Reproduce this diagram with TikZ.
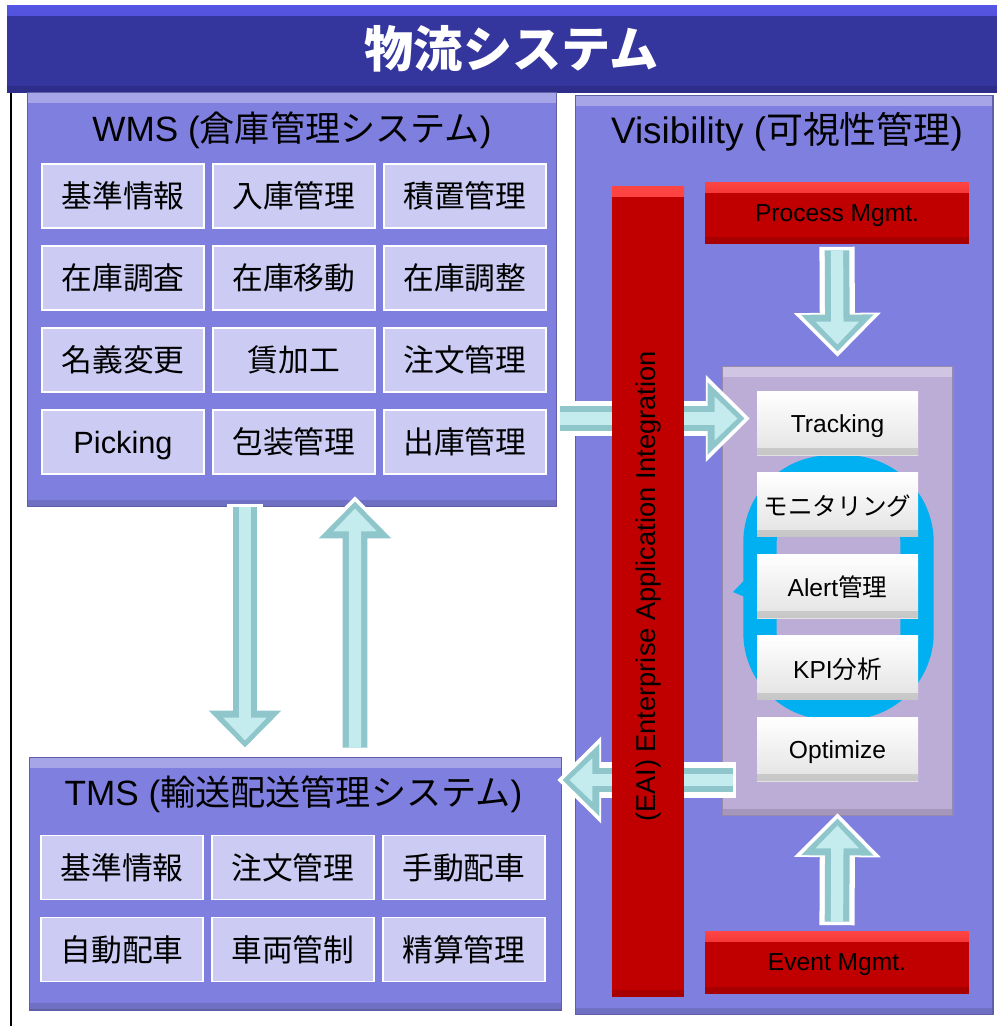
\documentclass[tikz,border=0pt]{standalone}
\usepackage{fontspec}
\setmainfont{Liberation Sans}
\newfontfamily\jp{Noto Sans CJK JP}
\usetikzlibrary{positioning, calc, arrows.meta}

\definecolor{titlec}{HTML}{35359E}
\definecolor{titlehi}{HTML}{5656E6}
\definecolor{panelc}{HTML}{7F7FDF}
\definecolor{cellc}{HTML}{CBCBF3}
\definecolor{redc}{HTML}{C00000}
\definecolor{redhi}{HTML}{FF4444}
\definecolor{vinc}{HTML}{BCADD6}
\definecolor{wgray}{HTML}{E2E2E2}
\definecolor{arrowc}{HTML}{8FC6CB}
\definecolor{arrowhi}{HTML}{C4ECEF}
\definecolor{ringc}{HTML}{00B0F0}

\tikzset{
  bevel/.style={path picture={
    \fill[#1] (path picture bounding box.north west) rectangle ([yshift=-6pt]path picture bounding box.north east);
    \fill[black, opacity=.12] (path picture bounding box.south west) rectangle ([yshift=4pt]path picture bounding box.south east);}},
  bevel/.default={white, opacity=.3},
  titlebar/.style={bevel={top color=titlehi, bottom color=titlec}, fill=titlec, inner sep=0pt, minimum width=20.18cm,
    minimum height=1.76cm, text=white, font=\jp\bfseries\fontsize{28}{32}\selectfont},
  panel/.style={bevel, fill=panelc, draw=panelc!75!black, line width=.6pt, inner sep=0pt},
  ptitle/.style={font=\fontsize{20}{24}\selectfont},
  cell/.style={fill=cellc, draw=white, line width=.8pt, inner sep=0pt, minimum width=3.24cm, minimum height=1.28cm,
    font=\jp\fontsize{17.5}{20}\selectfont},
  vin/.style={bevel, fill=vinc, draw=vinc!80!black, line width=.6pt, inner sep=0pt},
  wcell/.style={bevel, top color=white, bottom color=wgray, inner sep=0pt, minimum width=3.22cm, minimum height=1.28cm,
    text depth=0pt, font=\fontsize{14}{16}\selectfont},
  redbox/.style={bevel={top color=redhi, bottom color=redc}, fill=redc, inner sep=0pt,
    text depth=0pt, font=\fontsize{14}{16}\selectfont},
  flow/.style={draw=arrowc, line width=14pt, -{Triangle[width=40pt,length=21pt]},
    preaction={draw=white, line width=20pt, -{Triangle[width=48pt,length=25pt]}, shorten >=-3pt, shorten <=-2pt},
    postaction={draw=arrowhi, line width=7pt, -{Triangle[width=24pt,length=13pt]}, shorten >=4pt}}
}

\begin{document}
\begin{tikzpicture}[x=0.02cm, y=-0.02cm, on grid, node distance=1.64cm and 3.42cm]
  \useasboundingbox (0,0) rectangle (996,1026);
  \draw[line width=1.2pt] (11,93) -- (11,1026);

  % title
  \node[titlebar] (ttl) at (511.5,49) {物流システム};

  % WMS
  \node[panel, minimum width=10.6cm, minimum height=8.3cm] (wms) at (292,299.5) {};
  \node[ptitle] (wmst) at (292,130) {WMS ({\jp 倉庫管理システム})};
  \node[cell] (w11) at (123,196) {基準情報};
  \node[cell, right=of w11] (w12) {入庫管理};
  \node[cell, right=of w12] (w13) {積置管理};
  \node[cell, below=of w11] (w21) {在庫調査};
  \node[cell, right=of w21] (w22) {在庫移動};
  \node[cell, right=of w22] (w23) {在庫調整};
  \node[cell, below=of w21] (w31) {名義変更};
  \node[cell, right=of w31] (w32) {賃加工};
  \node[cell, right=of w32] (w33) {注文管理};
  \node[cell, below=of w31, text depth=0pt] (w41) {{\rmfamily Picking}};
  \node[cell, right=of w41] (w42) {包装管理};
  \node[cell, right=of w42] (w43) {出庫管理};

  % TMS
  \node[panel, minimum width=10.66cm, minimum height=5.06cm] (tms) at (295.5,883.5) {};
  \node[ptitle] (tmst) at (293.5,794) {TMS ({\jp 輸送配送管理システム})};
  \node[cell] (t11) at (122,867.5) {基準情報};
  \node[cell, right=of t11] (t12) {注文管理};
  \node[cell, right=of t12] (t13) {手動配車};
  \node[cell, below=of t11] (t21) {自動配車};
  \node[cell, right=of t21] (t22) {車両管制};
  \node[cell, right=of t22] (t23) {精算管理};

  % Visibility
  \node[panel, minimum width=8.36cm, minimum height=18.4cm] (vis) at (784,555) {};
  \node[ptitle, font=\fontsize{21}{24}\selectfont] (vist) at (787,132) {Visibility ({\jp 可視性管理})};
  \node[vin, minimum width=4.62cm, minimum height=9cm] (vin) at (837.5,591) {};

  % cycle
  \draw[ringc, line width=19pt, rounded corners=1.4cm] (760,472) rectangle (917,703);
  \fill[ringc] (733,592) -- (762,562) -- (762,604) -- cycle;

  \node[wcell] (trk) at (837.5,423.5) {Tracking};
  \node[wcell, below=1.63cm of trk] (mon) {{\jp モニタリング}};
  \node[wcell, below=1.63cm of mon] (alr) {Alert{\jp 管理}};
  \node[wcell, below=1.63cm of alr] (kpi) {KPI{\jp 分析}};
  \node[wcell, below=1.63cm of kpi] (opt) {Optimize};

  \node[redbox, minimum width=5.28cm, minimum height=1.24cm] (proc) at (837,213) {Process Mgmt.};
  \node[redbox, minimum width=5.28cm, minimum height=1.26cm] (evt) at (837,962.5) {Event Mgmt.};

  % arrows
  \draw[flow] ($(wms.south)+(-47,0)$) -- ($(tms.north)+(-50.5,-9)$);
  \draw[flow] ($(tms.north)+(59.5,-9)$) -- ($(wms.south)+(63,-6)$);
  \draw[flow] ($(wms.east |- trk)+(3,-5)$) -- ($(vin.west |- trk)+(23,-5)$);
  \draw[flow] ($(vin.west)+(11,189)$) coordinate (l0) -- (tms.east |- l0);
  \draw[flow] ($(proc.south)+(0,6)$) -- ($(vin.north)+(0,-14)$);
  \draw[flow] ($(evt.north)+(0,-9)$) -- ($(vin.south)+(0,2)$);

  % EAI
  \node[redbox, minimum width=1.44cm, minimum height=16.22cm] (eai) at (648,591.5) {};
  \node[rotate=90, font=\fontsize{15.5}{18}\selectfont] (eait) at ($(eai)+(0,-5)$) {(EAI) Enterprise Application Integration};
\end{tikzpicture}
\end{document}
